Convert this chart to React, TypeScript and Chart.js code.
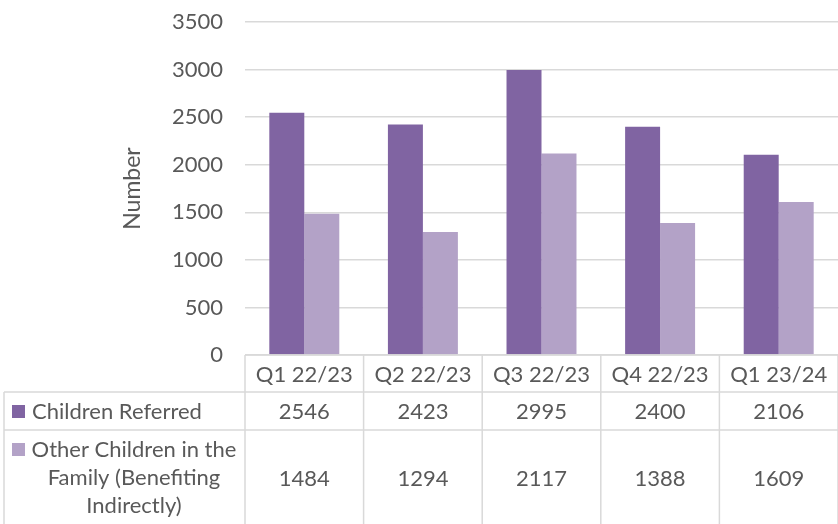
import React, { useEffect, useRef } from "react";
import { Chart, registerables } from "chart.js";

Chart.register(...registerables);

const categories = ["Q1 22/23", "Q2 22/23", "Q3 22/23", "Q4 22/23", "Q1 23/24"];
const childrenReferred = [2546, 2423, 2995, 2400, 2106];
const otherChildren = [1484, 1294, 2117, 1388, 1609];
const seriesNames = ["Children Referred", "Other Children in the Family (Benefiting Indirectly)"];
const seriesLabelLines = [["Children Referred"], ["Other Children in the", "Family (Benefiting", "Indirectly)"]];
const seriesValues = [childrenReferred, otherChildren];
const colors = ["#8064A2", "#B3A2C7"];
const yTitle = "Number";

const FONT = "Lato";
const TEXT = "#595959";
const LINE = "#D9D9D9";
const FS = 22;

const tablePlugin = {
  id: "dataTable",
  afterDraw(chart: any) {
    const ctx = chart.ctx;
    const xs = chart.scales.x;
    const area = chart.chartArea;
    const n = categories.length;
    const colW = (area.right - area.left) / n;
    const top = area.bottom;
    const row1 = top + 37;
    const row2 = top + 75;
    const bottom = chart.height;
    ctx.save();
    ctx.strokeStyle = LINE;
    ctx.lineWidth = 1.5;
    ctx.beginPath();
    ctx.moveTo(area.left, top);
    ctx.lineTo(area.right, top);
    ctx.moveTo(4, row1);
    ctx.lineTo(area.right, row1);
    ctx.moveTo(4, row2);
    ctx.lineTo(area.right, row2);
    ctx.moveTo(4, row1);
    ctx.lineTo(4, bottom);
    for (let i = 0; i <= n; i++) {
      const x = area.left + i * colW;
      ctx.moveTo(x, top);
      ctx.lineTo(x, bottom);
    }
    ctx.stroke();

    ctx.fillStyle = TEXT;
    ctx.font = `${FS}px ${FONT}`;
    ctx.textBaseline = "middle";
    ctx.textAlign = "center";
    for (let i = 0; i < n; i++) {
      const cx = xs.getPixelForValue(i);
      ctx.fillText(categories[i], cx, (top + row1) / 2 + 1);
      ctx.fillText(String(seriesValues[0][i]), cx, (row1 + row2) / 2 + 1);
      ctx.fillText(String(seriesValues[1][i]), cx, (row2 + bottom) / 2 + 2);
    }
    ctx.fillStyle = colors[0];
    ctx.fillRect(12, row1 + 13, 13, 13);
    ctx.fillStyle = TEXT;
    ctx.textAlign = "left";
    ctx.fillText(seriesLabelLines[0][0], 32, (row1 + row2) / 2 + 1);

    ctx.fillStyle = colors[1];
    ctx.fillRect(12, row2 + 13, 13, 13);
    ctx.fillStyle = TEXT;
    ctx.textAlign = "center";
    const lines = seriesLabelLines[1];
    for (let k = 0; k < lines.length; k++) {
      ctx.fillText(lines[k], 134, row2 + 20 + k * 28);
    }

    ctx.save();
    ctx.translate(133, (area.top + area.bottom) / 2);
    ctx.rotate(-Math.PI / 2);
    ctx.textAlign = "center";
    ctx.font = `23px ${FONT}`;
    ctx.fillText(yTitle, 0, 0);
    ctx.restore();
    ctx.restore();
  },
};

export default function App() {
  const ref = useRef<HTMLCanvasElement>(null);
  useEffect(() => {
    document.body.style.margin = "0";
    const chart = new Chart(ref.current!, {
      type: "bar",
      data: {
        labels: categories,
        datasets: seriesValues.map((vals, i) => ({
          label: seriesNames[i],
          data: vals,
          backgroundColor: colors[i],
          borderWidth: 0,
          barPercentage: 1,
          categoryPercentage: 0.59,
        })),
      },
      options: {
        responsive: false,
        animation: false,
        layout: { padding: { top: 22, bottom: 169, left: 0, right: -3 } },
        plugins: { legend: { display: false }, tooltip: { enabled: false } },
        scales: {
          x: { display: false },
          y: {
            min: 0,
            max: 3500,
            ticks: {
              stepSize: 500,
              padding: 22,
              color: TEXT,
              font: { family: FONT, size: FS },
              callback: (v: any) => String(v),
            },
            grid: { color: LINE, lineWidth: 1.5, drawTicks: false },
            border: { display: false },
            afterFit: (s: any) => {
              s.width = 245;
              s.paddingTop = 0;
              s.paddingBottom = 0;
            },
          },
        },
      },
      plugins: [tablePlugin],
    });
    return () => chart.destroy();
  }, []);
  return (
    <div style={{ width: 838, height: 524 }}>
      <canvas ref={ref} width={838} height={524} />
    </div>
  );
}
